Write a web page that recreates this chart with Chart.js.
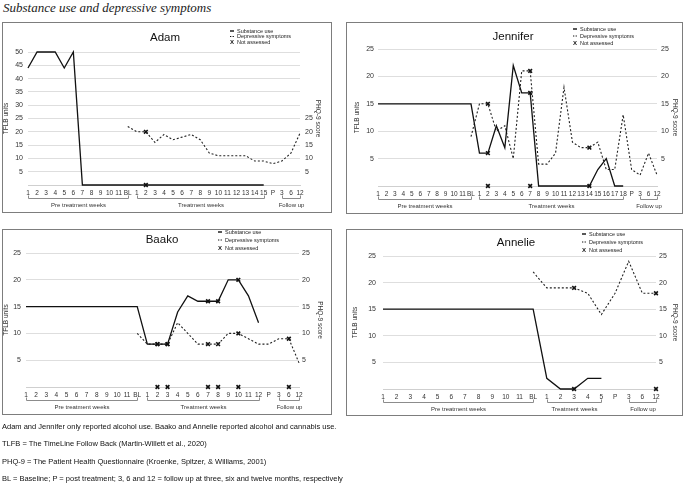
<!DOCTYPE html>
<html><head><meta charset="utf-8">
<script src="https://cdn.jsdelivr.net/npm/chart.js@4.4.1/dist/chart.umd.min.js"></script>
<style>
body{margin:0;background:#fff;width:685px;height:485px;overflow:hidden;position:relative;font-family:"Liberation Sans",Arial,sans-serif;}
.panel{position:absolute;}
.panel canvas{position:absolute;left:0;top:0;}
.frame{position:absolute;left:0;top:0;right:0;bottom:0;border:1.5px solid #7d7d7d;box-sizing:border-box;pointer-events:none;}
#maintitle{position:absolute;left:3px;top:0px;font:italic 13px "Liberation Serif",serif;color:#222;white-space:nowrap;line-height:15px;}
.note{position:absolute;left:2px;font-size:7.5px;line-height:9px;color:#111;white-space:nowrap;will-change:transform;-webkit-font-smoothing:antialiased;}
</style></head><body>
<div id="maintitle">Substance use and depressive symptoms</div>
<div class="panel" id="p0"><canvas id="c0"></canvas><div class="frame"></div></div>
<div class="panel" id="p1"><canvas id="c1"></canvas><div class="frame"></div></div>
<div class="panel" id="p2"><canvas id="c2"></canvas><div class="frame"></div></div>
<div class="panel" id="p3"><canvas id="c3"></canvas><div class="frame"></div></div>
<div class="note" style="top:421.5px">Adam and Jennifer only reported alcohol use. Baako and Annelie reported alcohol and cannabis use.</div>
<div class="note" style="top:438.5px">TLFB = The TimeLine Follow Back (Martin-Willett et al., 2020)</div>
<div class="note" style="top:456.5px">PHQ-9 = The Patient Health Questionnaire (Kroenke, Spitzer, &amp; Williams, 2001)</div>
<div class="note" style="top:473.5px">BL = Baseline; P = post treatment; 3, 6 and 12 = follow up at three, six and twelve months, respectively</div>
<script>
// ---------------- DATA ----------------
const adamLabels = ['1','2','3','4','5','6','7','8','9','10','11','BL','1','2','3','4','5','6','7','8','9','10','11','12','13','14','15','P','3','6','12'];
const adamSubstance = [44,50,50,50,44,50,0,0,0,0,0,0,0,0,0,0,0,0,0,0,0,0,0,0,0,0,0,null,null,null,null];
const adamDepressive = [null,null,null,null,null,null,null,null,null,null,null,22,20,20,16,19,17,18,19,17,12,11,11,11,11,9,9,8,9,12,19.5];
const adamNASubstance = [[13,0]];
const adamNADepressive = [[13,20]];
const adamNAZero = [];
const adamGroups = [['Pre treatment weeks',0,11],['Treatment weeks',12,26],['Follow up',28,30]];

const jenniferLabels = ['1','2','3','4','5','6','7','8','9','10','11','BL','1','2','3','4','5','6','7','8','9','10','11','12','13','14','15','16','17','18','P','3','6','12'];
const jenniferSubstance = [15,15,15,15,15,15,15,15,15,15,15,15,6,6,11,7,22,17,17,0,0,0,0,0,0,0,3,5,0,0,null,null,null,null];
const jenniferDepressive = [null,null,null,null,null,null,null,null,null,null,null,9,15,15,10,11,5,21,21,4,4,6,18,8,7,7,8,3,3,13,3,2,6,2];
const jenniferNASubstance = [[13,6],[18,17],[25,0]];
const jenniferNADepressive = [[13,15],[18,21],[25,7]];
const jenniferNAZero = [[13,0],[18,0]];
const jenniferGroups = [['Pre treatment weeks',0,11],['Treatment weeks',12,29],['Follow up',31,33]];

const baakoLabels = ['1','2','3','4','5','6','7','8','9','10','11','BL','1','2','3','4','5','6','7','8','9','10','11','12','P','3','6','12'];
const baakoSubstance = [15,15,15,15,15,15,15,15,15,15,15,15,8,8,8,14,17,16,16,16,20,20,17,12,null,null,null,null];
const baakoDepressive = [null,null,null,null,null,null,null,null,null,null,null,10,8,8,8,12,10,8,8,8,10,10,9,8,8,9,9,4.5];
const baakoNASubstance = [[13,8],[14,8],[18,16],[19,16],[21,20]];
const baakoNADepressive = [[13,8],[14,8],[18,8],[19,8],[21,10],[26,9]];
const baakoNAZero = [[13,0],[14,0],[18,0],[19,0],[21,0],[26,0]];
const baakoGroups = [['Pre treatment weeks',0,11],['Treatment weeks',12,23],['Follow up',25,27]];

const annelieLabels = ['1','2','3','4','5','6','7','8','9','10','11','BL','1','2','3','4','5','P','3','6','12'];
const annelieSubstance = [15,15,15,15,15,15,15,15,15,15,15,15,2,0,0,2,2,null,null,null,null];
const annelieDepressive = [null,null,null,null,null,null,null,null,null,null,null,22,19,19,19,18,14,18,24,18,18];
const annelieNASubstance = [[14,0]];
const annelieNADepressive = [[14,19],[20,18]];
const annelieNAZero = [[20,0]];
const annelieGroups = [['Pre treatment weeks',0,11],['Treatment weeks',12,16],['Follow up',18,20]];

const legendLabels = ['Substance use','Depressive symptoms','Not assessed'];

// ---------------- LAYOUT ----------------
const FONT = '"Liberation Sans", Arial, sans-serif';
const panels = [
  {name:'Adam', labels:adamLabels, sub:adamSubstance, dep:adamDepressive, naS:adamNASubstance, naD:adamNADepressive, naZ:adamNAZero, groups:adamGroups,
   box:[2,22,330,191], area:{l:26,t:30,r:298,b:163}, yMax:50, y1Max:50, y1LabelMax:25,
   titleXY:[163,16], legX:228, legY:[9,14.5,20], ltp:0, rtp:10, ltick:5, rtick:5},
  {name:'Jennifer', labels:jenniferLabels, sub:jenniferSubstance, dep:jenniferDepressive, naS:jenniferNASubstance, naD:jenniferNADepressive, naZ:jenniferNAZero, groups:jenniferGroups,
   box:[346,22,337,192], area:{l:32,t:27,r:311,b:164}, yMax:25, y1Max:25, y1LabelMax:25,
   titleXY:[167,15], legX:227, legY:[7,14,21], ltp:7, rtp:4, ltick:4, rtick:4},
  {name:'Baako', labels:baakoLabels, sub:baakoSubstance, dep:baakoDepressive, naS:baakoNASubstance, naD:baakoNADepressive, naZ:baakoNAZero, groups:baakoGroups,
   box:[2,229,330,186], area:{l:24,t:24,r:297,b:158}, yMax:25, y1Max:25, y1LabelMax:25,
   titleXY:[160,11], legX:216, legY:[3,11,19], ltp:0, rtp:8, ltick:5, rtick:3},
  {name:'Annelie', labels:annelieLabels, sub:annelieSubstance, dep:annelieDepressive, naS:annelieNASubstance, naD:annelieNADepressive, naZ:annelieNAZero, groups:annelieGroups,
   box:[346,229,337,187], area:{l:37,t:27,r:310,b:160}, yMax:25, y1Max:25, y1LabelMax:25,
   titleXY:[170,14], legX:236, legY:[5,13,21], ltp:5, rtp:4, ltick:7, rtick:3}
];

function sparse(n, pairs){ const a = new Array(n).fill(null); pairs.forEach(p => { a[p[0]] = p[1]; }); return a; }

const decor = {
  id:'decor',
  afterDraw(chart, args, o){
    const ctx = chart.ctx, xs = chart.scales.x, a = chart.chartArea;
    ctx.save();
    ctx.fillStyle = '#111'; ctx.textAlign = 'center'; ctx.textBaseline = 'middle';
    ctx.font = '11.5px ' + FONT;
    ctx.fillText(o.title, o.titleXY[0], o.titleXY[1]);
    const lx = o.legX;
    ctx.strokeStyle = '#111';
    ctx.lineWidth = 1.4; ctx.setLineDash([]);
    ctx.beginPath(); ctx.moveTo(lx, o.legY[0]); ctx.lineTo(lx+4, o.legY[0]); ctx.stroke();
    ctx.lineWidth = 1; ctx.setLineDash([1.3,1.3]);
    ctx.beginPath(); ctx.moveTo(lx, o.legY[1]); ctx.lineTo(lx+5, o.legY[1]); ctx.stroke();
    ctx.setLineDash([]);
    ctx.font = 'bold 6px ' + FONT; ctx.textAlign = 'center';
    ctx.fillText('X', lx+2, o.legY[2]);
    ctx.font = '5.5px ' + FONT; ctx.textAlign = 'left'; ctx.fillStyle = '#222';
    legendLabels.forEach((t,i) => ctx.fillText(t, lx+7, o.legY[i]));
    o.groups.forEach(g => {
      const x0 = Math.round(xs.getPixelForValue(g[1])) + 0.5, x1 = Math.round(xs.getPixelForValue(g[2])) + 0.5;
      const y = Math.round(a.bottom + 13) + 0.5;
      ctx.strokeStyle = '#8c8c8c'; ctx.lineWidth = 1;
      ctx.beginPath(); ctx.moveTo(x0, y-3); ctx.lineTo(x0, y); ctx.lineTo(x1, y); ctx.lineTo(x1, y-3); ctx.stroke();
      ctx.font = '6px ' + FONT; ctx.fillStyle = '#333'; ctx.textAlign = 'center'; ctx.textBaseline = 'middle';
      ctx.fillText(g[0], (x0+x1)/2, a.bottom + 20);
    });
    ctx.restore();
  }
};

panels.forEach((p, k) => {
  const [L, T, W, H] = p.box;
  const div = document.getElementById('p'+k);
  div.style.left = L+'px'; div.style.top = T+'px'; div.style.width = W+'px'; div.style.height = H+'px';
  const cv = document.getElementById('c'+k);
  cv.width = W; cv.height = H; cv.style.width = W+'px'; cv.style.height = H+'px';
  const n = p.labels.length;
  const mk = (data, axis) => ({
    data: sparse(n, data), yAxisID: axis, showLine:false, pointStyle:'crossRot',
    pointRadius:2.6, pointBorderWidth:1.6, pointBorderColor:'#111', pointBackgroundColor:'#111', clip:false
  });
  new Chart(cv, {
    type:'line',
    data:{
      labels:p.labels,
      datasets:[
        {label:'Substance use', data:p.sub, yAxisID:'y', borderColor:'#111', borderWidth:1.3, pointRadius:0, tension:0, spanGaps:false, clip:false},
        {label:'Depressive symptoms', data:p.dep, yAxisID:'y1', borderColor:'#222', borderWidth:1.1, borderDash:[2,2], pointRadius:0, tension:0, spanGaps:false, clip:false},
        mk(p.naS, 'y'), mk(p.naD, 'y1'), mk(p.naZ, 'y')
      ]
    },
    options:{
      responsive:false, animation:false, events:[],
      layout:{padding:{left:0, right:0, top:p.area.t, bottom:0}},
      plugins:{legend:{display:false}, tooltip:{enabled:false},
        decor:{title:p.name, titleXY:p.titleXY, legX:p.legX, legY:p.legY, groups:p.groups}},
      scales:{
        x:{type:'category', offset:false,
           afterFit:s => { s.height = H - p.area.b; },
           grid:{display:false, drawTicks:false}, border:{display:true, color:'#cfcfcf', width:1},
           ticks:{autoSkip:false, maxRotation:0, minRotation:0, padding:4, color:'#333', font:{size:6.5, family:FONT}}},
        y:{position:'left', min:0, max:p.yMax,
           afterFit:s => { s.width = p.area.l; },
           grid:{color:'#dedede', lineWidth:1, drawTicks:false}, border:{display:false},
           ticks:{stepSize:5, padding:p.ltick, color:'#333', font:{size:7, family:FONT}, callback:v => v === 0 ? '' : v},
           title:{display:true, text:'TFLB units', color:'#333', font:{size:6.5, family:FONT}, padding:{top:p.ltp, bottom:0}}},
        y1:{position:'right', min:0, max:p.y1Max,
           afterFit:s => { s.width = W - p.area.r; },
           grid:{display:false, drawTicks:false}, border:{display:false},
           ticks:{stepSize:5, padding:p.rtick, color:'#333', font:{size:7, family:FONT}, callback:v => (v === 0 || v > p.y1LabelMax) ? '' : v},
           title:{display:true, text:'PHQ-9 score', color:'#333', font:{size:6.5, family:FONT}, padding:{top:p.rtp, bottom:0}}}
      }
    },
    plugins:[decor]
  });
});
</script>
</body></html>
